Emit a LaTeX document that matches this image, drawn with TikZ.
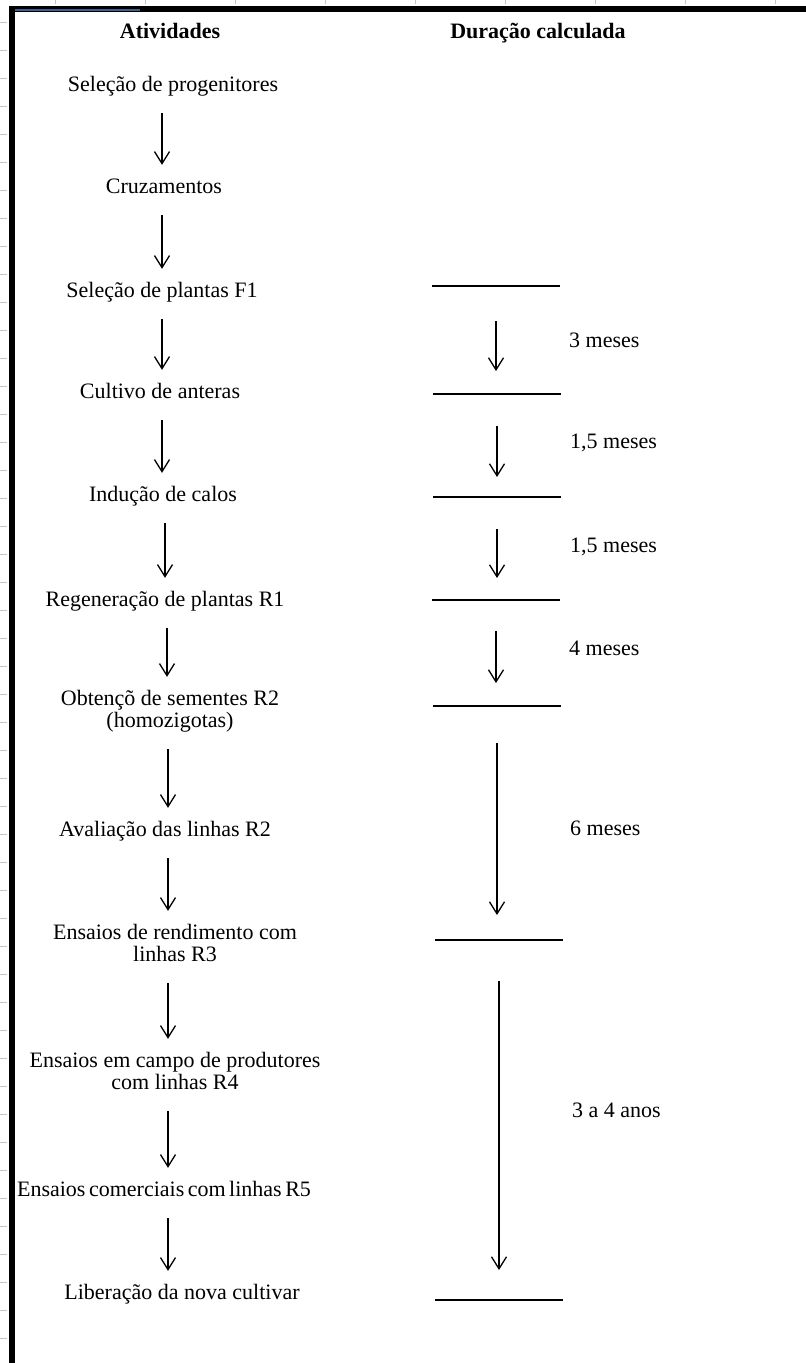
\documentclass[tikz,border=0pt]{standalone}
\usepackage{fontspec}
\setmainfont{Liberation Serif}
\usetikzlibrary{arrows.meta}
\definecolor{vblack}{HTML}{000000}
\definecolor{vgray}{HTML}{C4C4C4}
\definecolor{vblue}{HTML}{3D6190}
\tikzset{
	atv/.style = {font = \fontsize{22}{22}\selectfont, align = center, inner sep = 0pt, text height = 16.5pt, text depth = 5.5pt},
	atvd/.style = {atv, text height = 38.5pt},
	cabec/.style = {atv, font = \fontsize{22}{22}\selectfont\bfseries},
	tempo/.style = {atv, anchor = west},
	barra/.style = {fill = vblack, inner sep = 0pt, minimum width = 128pt, minimum height = 1.8pt},
	seta/.style = {draw = vblack, line width = 1.3pt, -{Straight Barb[length = 12pt, width = 15pt, line width = 1.3pt]}},
	passo/.style = {seta, shorten < = 16pt, shorten > = 12pt},
	prazo/.style = {seta, shorten < = 34pt, shorten > = 23pt}
}
\begin{document}
\begin{tikzpicture}[x = 1pt, y = -1pt]
	\useasboundingbox (0,0) rectangle (806,1363);
	% planilha
	\foreach \k in {0,...,47} \draw[color = vgray, line width = 1pt] (0,22+28*\k) -- (7,22+28*\k);
	\foreach \k in {0,...,8} \draw[color = vgray, line width = 1pt] (55+90.1*\k,0) -- (55+90.1*\k,4);
	\draw[draw = vblack, line width = 6.5pt] (12,1363) -- (12,9) -- (806,9);
	\draw[draw = vblue, line width = 2pt] (15,10) -- (140,10);
	% cabecalho
	\node[cabec] (hatv) at (170,33) {Atividades};
	\node[cabec] (hdur) at (538,33) {Duração calculada};
	% atividades
	\node[atv] (prog) at (173,86) {Seleção de progenitores};
	\node[atv] (cruz) at (164,188) {Cruzamentos};
	\node[atv] (plf1) at (162,292) {Seleção de plantas F1};
	\node[atv] (cult) at (160,393) {Cultivo de anteras};
	\node[atv] (indu) at (163,496) {Indução de calos};
	\node[atv] (rege) at (165,601) {Regeneração de plantas R1};
	\node[atvd] (sem) at (170,711) {Obtençõ de sementes R2\\(homozigotas)};
	\node[atv] (aval) at (165,831) {Avaliação das linhas R2};
	\node[atvd] (rend) at (175,945) {Ensaios de rendimento com\\linhas R3};
	\node[atvd] (camp) at (175,1073) {Ensaios em campo de produtores\\com linhas R4};
	\node[atv, font = {\fontsize{22}{22}\selectfont\spaceskip = 3.5pt\relax}] (come) at (164,1191) {Ensaios comerciais com linhas R5};
	\node[atv] (libe) at (182,1294) {Liberação da nova cultivar};
	\draw[passo] (prog.south -| 162,0) -- (cruz.north -| 162,0);
	\draw[passo] (cruz.south -| 162,0) -- (plf1.north -| 162,0);
	\draw[passo] (plf1.south -| 162,0) -- (cult.north -| 162,0);
	\draw[passo] (cult.south -| 162,0) -- (indu.north -| 162,0);
	\draw[passo] (indu.south -| 165,0) -- (rege.north -| 165,0);
	\draw[passo] (rege.south -| 167,0) -- (sem.north -| 167,0);
	\draw[passo] (sem.south -| 168,0) -- (aval.north -| 168,0);
	\draw[passo] (aval.south -| 168,0) -- (rend.north -| 168,0);
	\draw[passo] (rend.south -| 168,0) -- (camp.north -| 168,0);
	\draw[passo] (camp.south -| 168,0) -- (come.north -| 168,0);
	\draw[passo] (come.south -| 168,0) -- (libe.north -| 168,0);
	% duracao
	\node[barra] (b1) at (496,286) {};
	\node[barra] (b2) at (497,394) {};
	\node[barra] (b3) at (497,497) {};
	\node[barra] (b4) at (496,600) {};
	\node[barra] (b5) at (497,706) {};
	\node[barra] (b6) at (499,940) {};
	\node[barra] (b7) at (499,1300) {};
	\draw[prazo] (b1) -- (b1 |- b2);
	\draw[prazo, shorten < = 31pt, shorten > = 20pt] (b2) -- (b2 |- b3);
	\draw[prazo, shorten < = 31pt, shorten > = 22pt] (b3) -- (b3 |- b4);
	\draw[prazo, shorten < = 30pt, shorten > = 23pt] (b4) -- (b4 |- b5);
	\draw[prazo, shorten < = 36pt, shorten > = 25pt] (b5) -- (b5 |- b6);
	\draw[prazo, shorten < = 40pt, shorten > = 30pt] (b6) -- (b6 |- b7);
	\node[tempo] (t1) at (569,342) {3 meses};
	\node[tempo] (t2) at (570,443) {1,5 meses};
	\node[tempo] (t3) at (570,547) {1,5 meses};
	\node[tempo] (t4) at (569,650) {4 meses};
	\node[tempo] (t5) at (570,830) {6 meses};
	\node[tempo] (t6) at (572,1112) {3 a 4 anos};
\end{tikzpicture}
\end{document}
